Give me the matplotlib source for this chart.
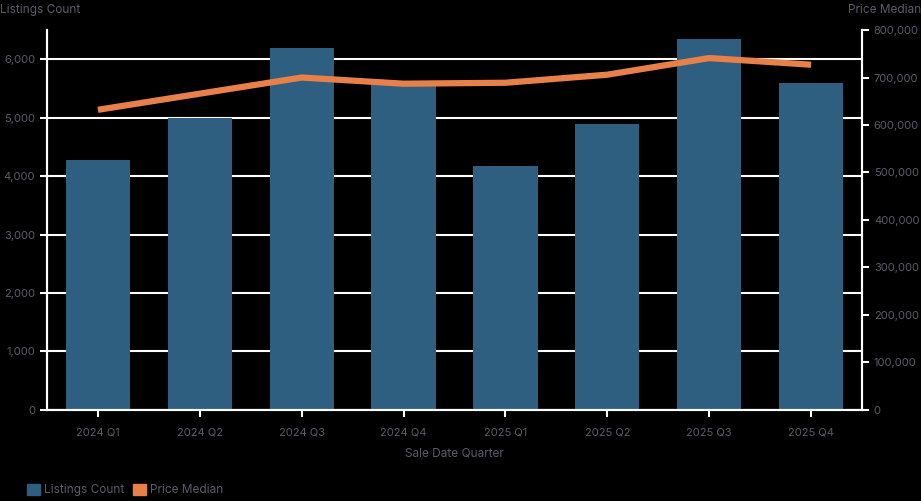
import matplotlib.pyplot as plt
from matplotlib.patches import Patch
from matplotlib.ticker import FuncFormatter

quarters = ["2024 Q1", "2024 Q2", "2024 Q3", "2024 Q4",
            "2025 Q1", "2025 Q2", "2025 Q3", "2025 Q4"]
listings_count = [4270, 4990, 6200, 5600, 4170, 4890, 6340, 5590]
price_median = [632000, 666000, 700000, 687000, 689000, 706000, 741000, 727000]

BAR = "#2e5f80"
LINE = "#e8804a"
TEXT = "#5c5c6e"
WHITE = "#ffffff"

plt.rcParams["font.family"] = ["Inter", "DejaVu Sans"]

fig = plt.figure(figsize=(9.21, 5.01), dpi=100, facecolor="black")
ax = fig.add_axes([0.051, 0.182, 0.885, 0.758])
ax.set_facecolor("black")
ax2 = ax.twinx()

x = list(range(len(quarters)))
ax.set_axisbelow(True)
ax.yaxis.grid(True, color=WHITE, linewidth=1.5)
ax.bar(x, listings_count, width=0.63, color=BAR, zorder=2)
ax2.plot(x, price_median, color=LINE, linewidth=4.5, solid_capstyle="butt", zorder=3)

ax.set_xlim(-0.5, len(quarters) - 0.5)
ax.set_ylim(0, 6500)
ax2.set_ylim(0, 800000)
ax.set_yticks(range(0, 7000, 1000))
ax2.set_yticks(range(0, 900000, 100000))
ax.yaxis.set_major_formatter(FuncFormatter(lambda v, p: f"{int(v):,}"))
ax2.yaxis.set_major_formatter(FuncFormatter(lambda v, p: f"{int(v):,}"))
ax.set_xticks(x)
ax.set_xticklabels(quarters)

for a in (ax, ax2):
    a.spines["top"].set_visible(False)
    for s in ("left", "right", "bottom"):
        a.spines[s].set_color(WHITE)
        a.spines[s].set_linewidth(1.5)
    a.tick_params(colors=WHITE, labelcolor=TEXT, labelsize=8, length=5, width=1.5)
ax.tick_params(axis="x", pad=8)

fig.text(0.0, 0.992, "Listings Count", color=TEXT, fontsize=8.5, ha="left", va="top")
fig.text(1.0, 0.992, "Price Median", color=TEXT, fontsize=8.5, ha="right", va="top")
ax.set_xlabel("Sale Date Quarter", color=TEXT, fontsize=8.5, labelpad=7)

handles = [Patch(color=BAR, label="Listings Count"), Patch(color=LINE, label="Price Median")]
fig.legend(handles=handles, loc="lower left", bbox_to_anchor=(0.018, -0.012), ncol=2,
           frameon=False, fontsize=8.5, labelcolor=TEXT, handlelength=1.1,
           handleheight=1.1, handletextpad=0.3, columnspacing=0.8)

fig.savefig("out.png", dpi=100, facecolor="black")
